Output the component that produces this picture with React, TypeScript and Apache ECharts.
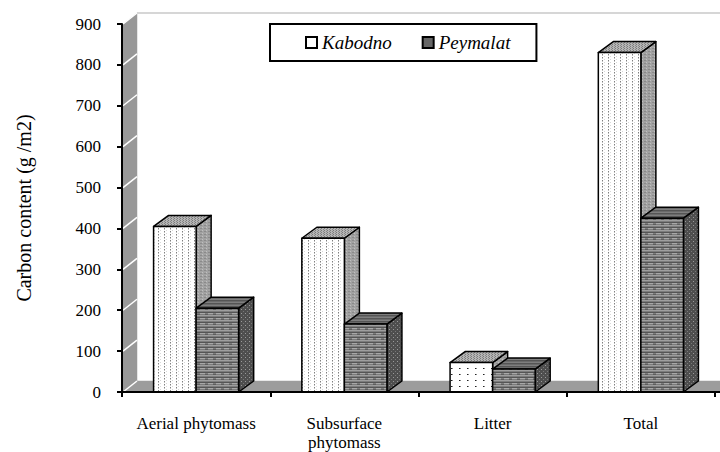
import React, { useEffect, useRef } from "react";
import * as echarts from "echarts";

const categories = ["Aerial phytomass", "Subsurface\nphytomass", "Litter", "Total"];
const kabodno = [405, 376, 72, 830];
const peymalat = [205, 166, 56, 425];
const yTicks = { min: 0, max: 900, interval: 100 };

const FONT = "Liberation Serif";
const DX = 15;
const DY = -11;

type Px = [number, number, number, number, string];
function tile(w: number, h: number, bg: string, px: Px[]) {
  const cv = document.createElement("canvas");
  cv.width = w;
  cv.height = h;
  const ctx = cv.getContext("2d")!;
  ctx.fillStyle = bg;
  ctx.fillRect(0, 0, w, h);
  for (const [x, y, ww, hh, c] of px) {
    ctx.fillStyle = c;
    ctx.fillRect(x, y, ww, hh);
  }
  return { image: cv, repeat: "repeat", imageWidth: w, imageHeight: h } as any;
}

export default function App() {
  const ref = useRef<HTMLDivElement>(null);
  useEffect(() => {
    if (!ref.current) return;
    const chart = echarts.init(ref.current, undefined, { renderer: "svg" });

    const pat = {
      kFront: tile(6, 3, "#ffffff", [
        [2, 0, 1, 1, "#808080"],
        [2, 1, 1, 1, "#c0c0c0"],
        [4, 2, 1, 1, "#d8d8d8"],
      ]),
      kFrontSparse: tile(8, 6, "#ffffff", [
        [3, 2, 1, 1, "#222222"],
        [4, 2, 1, 1, "#888888"],
      ]),
      kTop: tile(3, 2, "#b4b4b4", [
        [0, 0, 1, 1, "#7a7a7a"],
        [2, 1, 1, 1, "#868686"],
      ]),
      kSide: tile(4, 3, "#a2a2a2", [
        [0, 0, 2, 1, "#8a8a8a"],
        [2, 2, 1, 1, "#c0c0c0"],
      ]),
      pFront: tile(8, 5, "#7c7c7c", [
        [0, 0, 8, 1, "#9e9e9e"],
        [0, 2, 8, 1, "#555555"],
        [0, 3, 5, 1, "#a8a8a8"],
        [5, 4, 3, 1, "#5e5e5e"],
      ]),
      pTop: tile(4, 3, "#6a6a6a", [
        [0, 0, 4, 1, "#555555"],
        [0, 2, 4, 1, "#7e7e7e"],
      ]),
      pSide: tile(4, 4, "#4e4e4e", [
        [1, 1, 1, 1, "#9a9a9a"],
        [3, 3, 1, 1, "#777777"],
      ]),
    };

    const edge = { stroke: "#000", lineWidth: 1.5, lineJoin: "round" };

    const renderBar = (which: number) => (params: any, api: any) => {
      const idx = api.value(0);
      const val = api.value(1);
      const c = api.coord([idx, val]);
      const b = api.coord([idx, 0]);
      const band = api.size([1, 0])[0];
      const w = band * 0.287;
      const x0 = which === 0 ? c[0] - w : c[0];
      const x1 = x0 + w;
      const yt = c[1];
      const yb = b[1];
      const front =
        which === 0 ? (val < 150 ? pat.kFrontSparse : pat.kFront) : pat.pFront;
      const top = which === 0 ? pat.kTop : pat.pTop;
      const side = which === 0 ? pat.kSide : pat.pSide;
      return {
        type: "group",
        children: [
          {
            type: "polygon",
            shape: { points: [[x1, yt], [x1 + DX, yt + DY], [x1 + DX, yb + DY], [x1, yb]] },
            style: { fill: side, ...edge },
          },
          {
            type: "polygon",
            shape: { points: [[x0, yt], [x1, yt], [x1 + DX, yt + DY], [x0 + DX, yt + DY]] },
            style: { fill: top, ...edge },
          },
          {
            type: "polygon",
            shape: { points: [[x0, yt], [x1, yt], [x1, yb], [x0, yb]] },
            style: { fill: front, ...edge },
          },
        ],
      };
    };

    const renderWalls = (params: any, api: any) => {
      const cs = params.coordSys;
      const x = cs.x;
      const yTop = cs.y;
      const yBot = cs.y + cs.height;
      const xR = cs.x + cs.width + 40;
      const children: any[] = [
        {
          type: "polygon",
          shape: { points: [[x + 1, yBot], [xR, yBot], [xR + DX, yBot + DY], [x + DX, yBot + DY]] },
          style: { fill: "#9c9c9c", stroke: "#9c9c9c", lineWidth: 0.5 },
        },
        {
          type: "polygon",
          shape: { points: [[x + 1, yBot], [x + 1, yTop], [x + DX, yTop + DY], [x + DX, yBot + DY]] },
          style: { fill: "#989898", stroke: "#989898", lineWidth: 0.5 },
        },
        {
          type: "line",
          shape: { x1: x + DX, y1: yTop + DY, x2: xR + DX, y2: yTop + DY },
          style: { stroke: "#c8c8c8", lineWidth: 1.5 },
        },
        {
          type: "line",
          shape: { x1: cs.x + cs.width, y1: yBot, x2: xR + DX, y2: yBot },
          style: { stroke: "#000", lineWidth: 2 },
        },
      ];
      for (let v = yTicks.min; v <= yTicks.max; v += yTicks.interval) {
        const p = api.coord([0, v]);
        children.push({
          type: "line",
          shape: { x1: x + 1, y1: p[1], x2: x + DX, y2: p[1] + DY },
          style: { stroke: "#ffffff", lineWidth: 1.5 },
        });
      }
      return { type: "group", children };
    };

    chart.setOption({
      animation: false,
      backgroundColor: "#ffffff",
      grid: { left: 122, top: 24, width: 593, height: 368 },
      legend: {
        left: 270,
        top: 24,
        orient: "horizontal",
        selectedMode: false,
        backgroundColor: "#ffffff",
        borderColor: "#000",
        borderWidth: 2,
        borderRadius: 0,
        padding: [9, 26, 9, 35],
        itemGap: 30,
        itemWidth: 11,
        itemHeight: 11,
        textStyle: { fontFamily: FONT, fontStyle: "italic", fontSize: 19, color: "#000" },
        data: [
          { name: "Kabodno", icon: "rect", itemStyle: { color: "#fff", borderColor: "#000", borderWidth: 2 } },
          { name: "Peymalat", icon: "rect", itemStyle: { color: "#666", borderColor: "#000", borderWidth: 2 } },
        ],
      },
      xAxis: {
        type: "category",
        data: categories,
        z: 5,
        axisLine: { show: true, lineStyle: { color: "#000", width: 2 } },
        axisTick: { show: true, length: 5, lineStyle: { color: "#000", width: 2 } },
        axisLabel: {
          interval: 0,
          margin: 22,
          fontFamily: FONT,
          fontSize: 17,
          lineHeight: 19,
          color: "#000",
        },
        splitLine: { show: false },
      },
      yAxis: {
        type: "value",
        min: yTicks.min,
        max: yTicks.max,
        interval: yTicks.interval,
        z: 5,
        name: "Carbon content (g /m2)",
        nameLocation: "middle",
        nameRotate: 90,
        nameGap: 88,
        nameTextStyle: { fontFamily: FONT, fontSize: 20, color: "#000" },
        axisLine: { show: true, lineStyle: { color: "#000", width: 2 } },
        axisTick: { show: true, length: 5, lineStyle: { color: "#000", width: 2 } },
        axisLabel: { margin: 21, fontFamily: FONT, fontSize: 17, color: "#000" },
        splitLine: { show: false },
      },
      series: [
        {
          name: "walls",
          type: "custom",
          z: 1,
          silent: true,
          renderItem: renderWalls,
          data: [[0, 0]],
          encode: { x: 0, y: 1 },
        },
        {
          name: "Kabodno",
          type: "custom",
          z: 3,
          renderItem: renderBar(0),
          itemStyle: { color: "#fff" },
          data: kabodno.map((v, i) => [i, v]),
          encode: { x: 0, y: 1 },
        },
        {
          name: "Peymalat",
          type: "custom",
          z: 3,
          renderItem: renderBar(1),
          itemStyle: { color: "#666" },
          data: peymalat.map((v, i) => [i, v]),
          encode: { x: 0, y: 1 },
        },
      ],
    });
    return () => chart.dispose();
  }, []);
  return (
    <div
      ref={ref}
      style={{ position: "fixed", left: 0, top: 0, width: 720, height: 452 }}
    />
  );
}
